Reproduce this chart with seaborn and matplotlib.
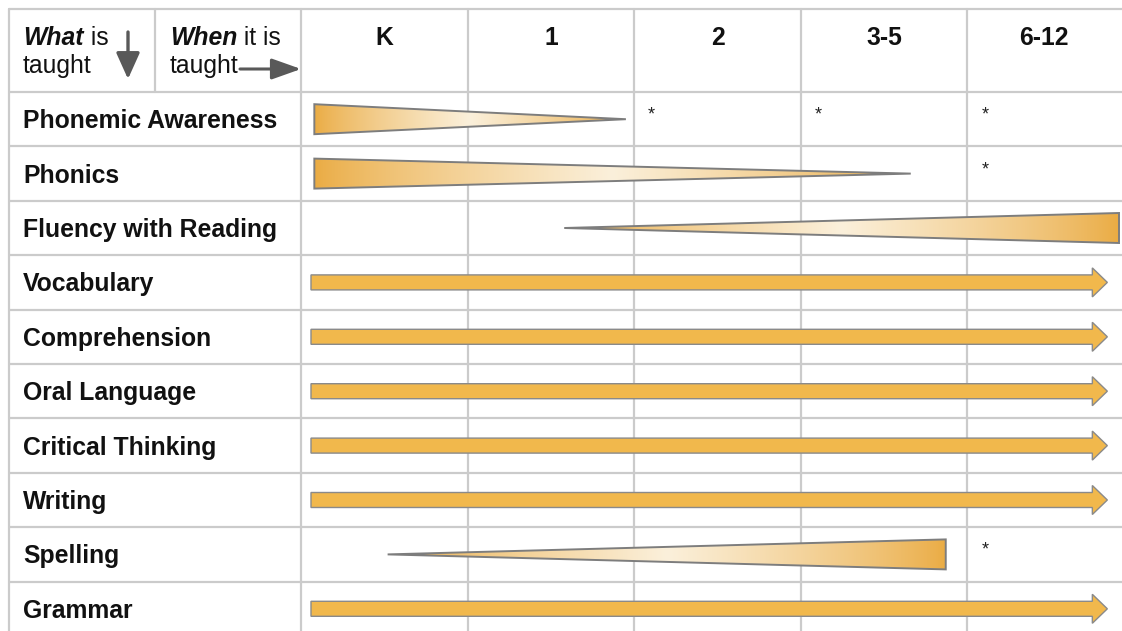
import numpy as np
import matplotlib
matplotlib.use("Agg")
import matplotlib.pyplot as plt
from matplotlib.patches import Polygon
from matplotlib.colors import to_rgb
import seaborn as sns

# ---------------- data ----------------
grades = ["K", "1", "2", "3-5", "6-12"]
topics = ["Phonemic Awareness", "Phonics", "Fluency with Reading", "Vocabulary",
          "Comprehension", "Oral Language", "Critical Thinking", "Writing",
          "Spelling", "Grammar"]

# tapering wedges: wide end and pointed end, in grade-column units (K column starts at 0)
taper_topics = ["Phonemic Awareness", "Phonics", "Fluency with Reading", "Spelling"]
taper_wide = [0.08, 0.08, 4.91, 3.87]
taper_tip = [1.95, 3.66, 1.58, 0.52]

# full-span arrows
arrow_topics = ["Vocabulary", "Comprehension", "Oral Language", "Critical Thinking",
                "Writing", "Grammar"]
arrow_start = [0.06, 0.06, 0.06, 0.06, 0.06, 0.06]
arrow_end = [4.84, 4.84, 4.84, 4.84, 4.84, 4.84]

# asterisk marks (topic, grade column)
star_topics = ["Phonemic Awareness", "Phonemic Awareness", "Phonemic Awareness",
               "Phonics", "Spelling"]
star_grades = ["2", "3-5", "6-12", "6-12", "6-12"]

# ---------------- style ----------------
sns.set_theme(style="white")
plt.rcParams["font.family"] = ["Liberation Sans", "DejaVu Sans"]

ORANGE = "#EAAB42"
CREAM = "#FBF0DB"
ARROW_FILL = "#F1B84C"
EDGE = "#7d7d7d"
GRID = "#cbcbcb"
TXT = "#111111"
FS = 17.8

fig = plt.figure(figsize=(11.22, 6.31), dpi=100)
ax = fig.add_axes([0, 0, 1, 1])
ax.set_axis_off()

COLW, ROWH = 166.6, 54.4
XLIM = (-301 / COLW, (1122 - 301) / COLW)
YLIM = (-0.5 + (631 - 92) / ROWH, -0.5 - 92 / ROWH)

top_border = -0.5 - (92 - 9.5) / ROWH
left_border = (9 - 301) / COLW
header_div = (155 - 301) / COLW

# ---------------- grid ----------------
n = len(topics)
for k in range(n + 1):
    ax.plot([left_border, XLIM[1]], [k - 0.5, k - 0.5], color=GRID, lw=1.6, zorder=1,
            solid_capstyle="butt")
ax.plot([left_border, XLIM[1]], [top_border, top_border], color=GRID, lw=1.6, zorder=1)
for c in range(len(grades)):
    ax.plot([c, c], [top_border, YLIM[0]], color=GRID, lw=1.6, zorder=1)
ax.plot([left_border, left_border], [top_border, YLIM[0]], color=GRID, lw=1.6, zorder=1)
ax.plot([header_div, header_div], [top_border, -0.5], color=GRID, lw=1.6, zorder=1)

# ---------------- header ----------------
base1 = -0.5 - (92 - 45) / ROWH
base2 = -0.5 - (92 - 72.5) / ROWH
for c, g in enumerate(grades):
    ax.text(c + 0.5 - (0.04 if c == len(grades) - 1 else 0), base1, g, ha="center",
            va="baseline", fontsize=FS, fontweight="bold", color=TXT)

x_what = (23 - 301) / COLW
x_when = (170 - 301) / COLW
t1 = ax.text(x_what, base1, "What", fontsize=FS, fontweight="bold", style="italic",
             va="baseline", ha="left", color=TXT)
ax.annotate(" is", xy=(1, 0), xycoords=t1, fontsize=FS, va="bottom", ha="left", color=TXT)
ax.text(x_what, base2, "taught", fontsize=FS, va="baseline", ha="left", color=TXT)
t2 = ax.text(x_when, base1, "When", fontsize=FS, fontweight="bold", style="italic",
             va="baseline", ha="left", color=TXT)
ax.annotate(" it is", xy=(1, 0), xycoords=t2, fontsize=FS, va="bottom", ha="left", color=TXT)
ax.text(x_when, base2, "taught", fontsize=FS, va="baseline", ha="left", color=TXT)

# header arrows
ax.annotate("", xy=((128 - 301) / COLW, -0.5 - (92 - 79) / ROWH),
            xytext=((128 - 301) / COLW, -0.5 - (92 - 32) / ROWH),
            arrowprops=dict(arrowstyle="-|>,head_length=0.8,head_width=0.36",
                            mutation_scale=20, lw=2.4, color="#595959",
                            shrinkA=0, shrinkB=0))
ax.annotate("", xy=((301 - 301) / COLW, -0.5 - (92 - 69) / ROWH),
            xytext=((240 - 301) / COLW, -0.5 - (92 - 69) / ROWH),
            arrowprops=dict(arrowstyle="-|>,head_length=0.9,head_width=0.32",
                            mutation_scale=20, lw=2.2, color="#595959",
                            shrinkA=0, shrinkB=0))

# ---------------- row labels ----------------
for i, t in enumerate(topics):
    ax.text(x_what, i + 0.165, t, fontsize=FS, fontweight="bold", va="baseline",
            ha="left", color=TXT)

# ---------------- tapering wedges with gradient ----------------
o = np.array(to_rgb(ORANGE))
cr = np.array(to_rgb(CREAM))
tt = np.linspace(0, 1, 400)
w = 1 - np.abs(2 * tt - 1)
w = w ** 0.8
grad = (o[None, :] * (1 - w[:, None]) + cr[None, :] * w[:, None])[None, :, :]

half_w = 15 / ROWH
for t, wide, tip in zip(taper_topics, taper_wide, taper_tip):
    y = topics.index(t)
    poly = Polygon([(wide, y - half_w), (wide, y + half_w), (tip, y)], closed=True,
                   facecolor="none", edgecolor=EDGE, lw=1.4, zorder=4)
    ax.add_patch(poly)
    x0, x1 = min(wide, tip), max(wide, tip)
    im = ax.imshow(grad, extent=(x0, x1, y + half_w, y - half_w), aspect="auto",
                   zorder=3, interpolation="bilinear")
    im.set_clip_path(poly)

# ---------------- full arrows ----------------
sh = 7.5 / ROWH
hh = 14.5 / ROWH
hl = 15 / COLW
for t, s, e in zip(arrow_topics, arrow_start, arrow_end):
    y = topics.index(t)
    hb = e - hl
    pts = [(s, y - sh), (hb, y - sh), (hb, y - hh), (e, y), (hb, y + hh),
           (hb, y + sh), (s, y + sh)]
    ax.add_patch(Polygon(pts, closed=True, facecolor=ARROW_FILL, edgecolor="#8a8a8a",
                         lw=1.0, zorder=3, joinstyle="miter"))

# ---------------- asterisks ----------------
for t, g in zip(star_topics, star_grades):
    y = topics.index(t)
    c = grades.index(g)
    ax.text(c + 0.105, y + 0.01, "*", fontsize=13, ha="center", va="baseline",
            color="#222222")

ax.set_xlim(*XLIM)
ax.set_ylim(*YLIM)
fig.savefig("out.png", dpi=100)
